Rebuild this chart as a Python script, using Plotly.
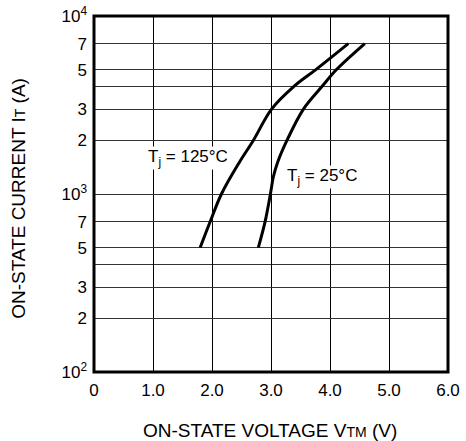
import plotly.graph_objects as go

# Data
current_125c = [500, 700, 1000, 1500, 2000, 3000, 4000, 5000, 7000]
voltage_125c = [1.80, 1.97, 2.16, 2.46, 2.70, 3.01, 3.38, 3.76, 4.31]
current_25c = [500, 700, 1000, 1250, 1500, 2000, 3000, 4000, 5000, 7000]
voltage_25c = [2.785, 2.90, 2.99, 3.04, 3.11, 3.27, 3.55, 3.86, 4.11, 4.59]

x_tickvals = [0, 1, 2, 3, 4, 5, 6]
x_ticktext = ["0", "1.0", "2.0", "3.0", "4.0", "5.0", "6.0"]
y_tickvals = [100, 200, 300, 500, 700, 1000, 2000, 3000, 5000, 7000, 10000]
y_ticktext = ["10<sup>2</sup>", "2", "3", "5", "7", "10<sup>3</sup>",
              "2", "3", "5", "7", "10<sup>4</sup>"]
y_unlabeled_grid = [400, 4000]

FONT = "Arial, 'Liberation Sans', sans-serif"

fig = go.Figure()
for v, c in ((voltage_125c, current_125c), (voltage_25c, current_25c)):
    fig.add_trace(go.Scatter(x=v, y=c, mode="lines",
                             line=dict(color="black", width=3, shape="spline", smoothing=1.0),
                             showlegend=False, hoverinfo="skip"))

fig.update_layout(
    width=466, height=441,
    margin=dict(l=94, r=18, t=16, b=69),
    paper_bgcolor="white", plot_bgcolor="white",
    font=dict(family=FONT, size=17, color="black"),
    xaxis=dict(range=[0, 6], tickvals=x_tickvals, ticktext=x_ticktext,
               showgrid=True, gridcolor="black", gridwidth=1,
               zeroline=False, ticks="", ticklabelstandoff=6,
               showline=False, automargin=False),
    yaxis=dict(type="log", range=[2, 4], tickvals=y_tickvals, ticktext=y_ticktext,
               showgrid=True, gridcolor="#333333", gridwidth=1.3,
               minor=dict(tickvals=y_unlabeled_grid, showgrid=True,
                          gridcolor="#333333", gridwidth=1.3, ticks=""),
               zeroline=False, ticks="", ticklabelstandoff=6,
               showline=False, automargin=False),
    shapes=[dict(type="rect", xref="paper", yref="paper", x0=0, x1=1, y0=0, y1=1,
                 line=dict(color="black", width=3), layer="above")],
    annotations=[
        dict(text="T<sub>j</sub> = 125°C", x=1.59, y=3.202, xref="x", yref="y",
             showarrow=False, bgcolor="white", borderpad=0, font=dict(size=17)),
        dict(text="T<sub>j</sub> = 25°C", x=3.86, y=3.096, xref="x", yref="y",
             showarrow=False, bgcolor="white", borderpad=0, font=dict(size=17)),
        dict(text="ON-STATE VOLTAGE V<span style='font-size:14px'>TM</span> (V)",
             x=0.497, y=-0.165, xref="paper", yref="paper", showarrow=False,
             xanchor="center", yanchor="middle", font=dict(size=19)),
        dict(text="ON-STATE CURRENT I<span style='font-size:14px'>T</span> (A)",
             x=-0.212, y=0.489, xref="paper", yref="paper", showarrow=False,
             xanchor="center", yanchor="middle", textangle=-90, font=dict(size=19)),
    ],
)

fig.write_html("out.html", config={"displayModeBar": False},
               post_script="document.body.style.margin='0';")
